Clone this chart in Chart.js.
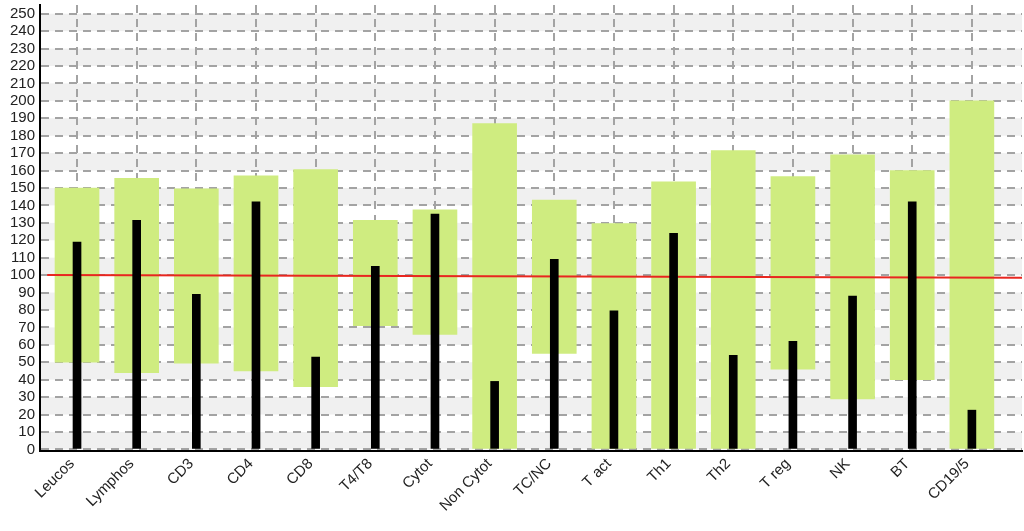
<!DOCTYPE html>
<html><head><meta charset="utf-8">
<script src="https://cdn.jsdelivr.net/npm/chart.js@4/dist/chart.umd.min.js"></script>
<style>html,body{margin:0;padding:0;background:#fff}#wrap{width:1024px;height:531px;position:relative}</style>
</head><body><div id="wrap"><canvas id="c"></canvas></div>
<script>
const categories = ['Leucos','Lymphos','CD3','CD4','CD8','T4/T8','Cytot','Non Cytot','TC/NC','T act','Th1','Th2','T reg','NK','BT','CD19/5'];
const rangeLow  = [50, 44, 49.5, 45, 36, 71, 66, 0, 55, 0, 0, 0, 46, 29, 40, 0];
const rangeHigh = [150, 155.5, 149.5, 157, 160.5, 131.5, 137.5, 187, 143, 129.5, 153.5, 171.5, 156.5, 169, 160, 200];
const measured  = [119, 131.5, 89, 142, 53, 105, 135, 39, 109, 79.5, 124, 54, 62, 88, 142, 22.5];
const refLineX  = [-0.5, 15.84];
const refLineY  = [100, 98.5];
const yTicks    = [0,10,20,30,40,50,60,70,80,90,100,110,120,130,140,150,160,170,180,190,200,210,220,230,240,250];

const FONT = 'Liberation Sans, Arial, Helvetica, sans-serif';

const bandPlugin = {
  id: 'bands',
  beforeDraw(chart) {
    const {ctx, chartArea: a, scales: {y}} = chart;
    ctx.save();
    ctx.fillStyle = '#f0f0f0';
    for (let i = 0; i < yTicks.length - 1; i += 2) {
      const top = y.getPixelForValue(yTicks[i + 1]);
      const bot = y.getPixelForValue(yTicks[i]);
      ctx.fillRect(a.left, top, a.right - a.left, bot - top);
    }
    ctx.restore();
  }
};

new Chart(document.getElementById('c'), {
  type: 'bar',
  data: {
    datasets: [
      {
        label: 'measured',
        data: categories.map((c, i) => ({x: i, y: measured[i]})),
        backgroundColor: '#000000',
        barThickness: 8,
        grouped: false,
        order: 0
      },
      {
        type: 'line',
        label: 'reference',
        data: refLineX.map((x, i) => ({x: x, y: refLineY[i]})),
        borderColor: '#e8261f',
        borderWidth: 2,
        pointRadius: 0,
        order: 1
      },
      {
        label: 'range',
        data: categories.map((c, i) => ({x: i, y: [rangeLow[i], rangeHigh[i]]})),
        backgroundColor: 'rgb(207,236,128)',
        barThickness: 44,
        grouped: false,
        order: 2
      }
    ]
  },
  options: {
    responsive: true,
    maintainAspectRatio: false,
    animation: false,
    layout: {padding: {top: 5, right: 2, left: 5, bottom: 12}},
    plugins: {legend: {display: false}, tooltip: {enabled: false}},
    scales: {
      x: {
        type: 'linear',
        min: -0.62,
        max: 15.84,
        offset: false,
        afterBuildTicks: s => { s.ticks = categories.map((c, i) => ({value: i})); },
        afterFit: s => { s.paddingLeft = 0; s.paddingRight = 0; },
        grid: {offset: false, color: '#a3a3a3', lineWidth: 2, drawTicks: false},
        border: {display: true, color: '#000', width: 2, dash: [8, 6]},
        ticks: {
          autoSkip: false,
          minRotation: 45,
          maxRotation: 45,
          padding: 4,
          labelOffset: -5,
          color: '#222',
          font: {size: 15, family: FONT},
          callback: v => categories[v]
        }
      },
      y: {
        min: -1,
        max: 255,
        afterBuildTicks: s => { s.ticks = yTicks.map(v => ({value: v})); },
        afterFit: s => { s.paddingTop = 0; s.paddingBottom = 0; },
        grid: {color: '#a3a3a3', lineWidth: 2, drawTicks: false},
        border: {display: true, color: '#000', width: 2, dash: [8, 6]},
        ticks: {autoSkip: false, padding: 5, color: '#222', font: {size: 15, family: FONT}}
      }
    }
  },
  plugins: [bandPlugin]
});
</script>
</body></html>
